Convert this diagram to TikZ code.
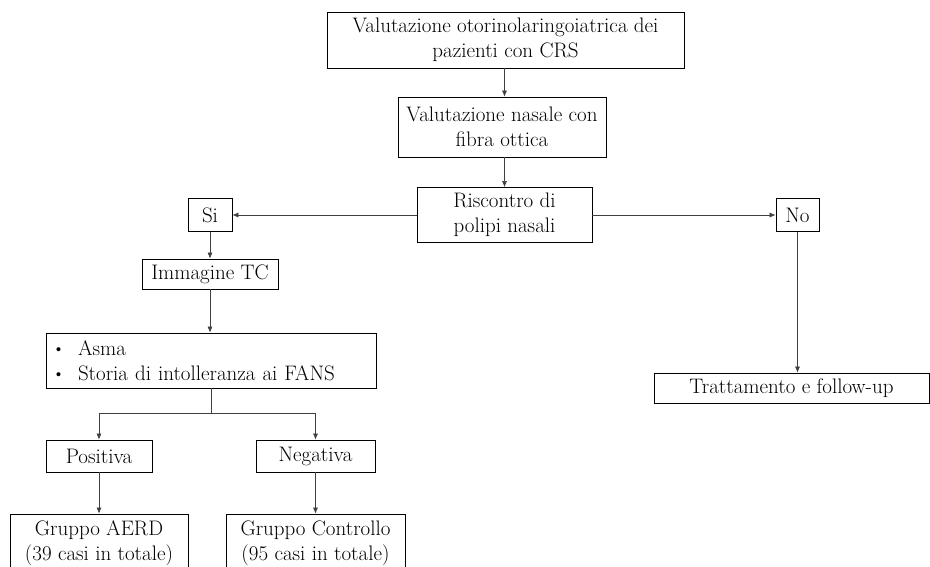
\documentclass[tikz,border=0pt]{standalone}
\usepackage{amsmath}
\usepackage{tikz}
\usetikzlibrary{arrows.meta}

\newcommand{\punto}{\makebox[26pt][l]{\raisebox{1pt}{\fontsize{18}{18}\selectfont\textbullet}}}

\begin{document}
\begin{tikzpicture}[x=1pt,y=-1pt,
        box/.style={shape=rectangle,draw=black,line width=0.8pt,inner sep=0pt,align=center,font=\fontsize{21}{25}\selectfont},
        link/.style={draw=black!75,line width=0.6pt,-{Latex[length=6pt,width=5pt]}}]
        \useasboundingbox (0,0) rectangle (930,566);

        \node[box,minimum width=357,minimum height=56] (valorl) at (505.5, 40)     {Valutazione otorinolaringoiatrica dei\\pazienti con CRS};
        \node[box,minimum width=208,minimum height=60] (valnas) at (502, 127)     {Valutazione nasale con\\fibra ottica};
        \node[box,minimum width=175,minimum height=55] (polipi) at (504.5, 215)     {Riscontro di\\polipi nasali};
        \node[box,minimum width=44,minimum height=33] (si) at (210, 215)     {Si};
        \node[box,minimum width=43,minimum height=33] (no) at (797.5, 215)     {No};
        \node[box,minimum width=136,minimum height=30] (tc) at (210, 274)     {Immagine TC};
        \node[box,minimum height=55,text width=318,inner xsep=6pt,align=left] (asma) at (211, 360.5)     {\punto Asma\\\punto Storia di intolleranza ai FANS};
        \node[box,minimum width=275,minimum height=30] (tratt) at (791.5, 388)     {Trattamento e follow-up};
        \node[box,minimum width=106,minimum height=32] (pos) at (99, 456)     {Positiva};
        \node[box,minimum width=119,minimum height=32] (neg) at (315.5, 456)     {Negativa};
        \node[box,minimum width=178,minimum height=59] (aerd) at (99, 543.5)     {Gruppo AERD\\(39 casi in totale)};
        \node[box,minimum width=179,minimum height=59] (ctrl) at (315.5, 543.5)     {Gruppo Controllo\\(95 casi in totale)};
        \coordinate (split) at (211, 413);

	\draw[link] (valorl.south -| polipi.north) -- (valnas.north -| polipi.north);
	\draw[link] (valnas.south -| polipi.north) -- (polipi.north);
	\draw[link] (polipi.west) -- (si.east);
	\draw[link] (polipi.east) -- (no.west);
	\draw[link] (si.south) -- (tc.north);
	\draw[link] (tc.south) -- (tc.south |- asma.north);
	\draw[link] (no.south) -- (no.south |- tratt.north);
	\draw[draw=black!75,line width=0.6pt] (asma.south -| split) -- (split);
	\draw[link] (split) -| (pos.north);
	\draw[link] (split) -| (neg.north);
	\draw[link] (pos.south) -- (aerd.north);
	\draw[link] (neg.south) -- (ctrl.north);
\end{tikzpicture}
\end{document}
